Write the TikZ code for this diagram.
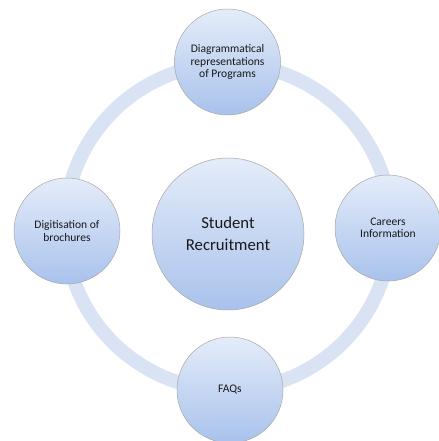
\documentclass[tikz,border=0pt]{standalone}
\usepackage{fontspec}
\setmainfont{Carlito}
\begin{document}
\begin{tikzpicture}[x=1bp,y=-1bp,
  bubble/.style={circle,draw=black!35,line width=0.5bp,top color=myTop,bottom color=myBot,
    align=center,text=black!90,inner sep=0pt},
  small/.style={bubble,minimum size=106bp,font=\fontsize{11.6}{12.2}\selectfont},
  big/.style={bubble,minimum size=152bp,font=\fontsize{16.8}{22}\selectfont},
  ring/.style={draw=ringC,line width=14bp}]
\definecolor{myTop}{HTML}{E4ECF9}
\definecolor{myBot}{HTML}{A9C2EC}
\definecolor{ringC}{HTML}{D9E3F3}
\useasboundingbox (0,0) rectangle (439,441);
\coordinate (c) at (228,227);
\draw[ring] (c) circle (163);
\node[big] (main) at (228,234) {Student\\Recruitment};
\node[small] (top) at (227.5,62) {\raisebox{-4bp}{\shortstack{Diagrammatical\\representations\\of Programs}}};
\node[small] (left) at (67,231) {Digitisation of\\brochures};
\node[small] (right) at (388,228) {Careers\\Information};
\node[small] (bottom) at (230,390) {FAQs};
\end{tikzpicture}
\end{document}
